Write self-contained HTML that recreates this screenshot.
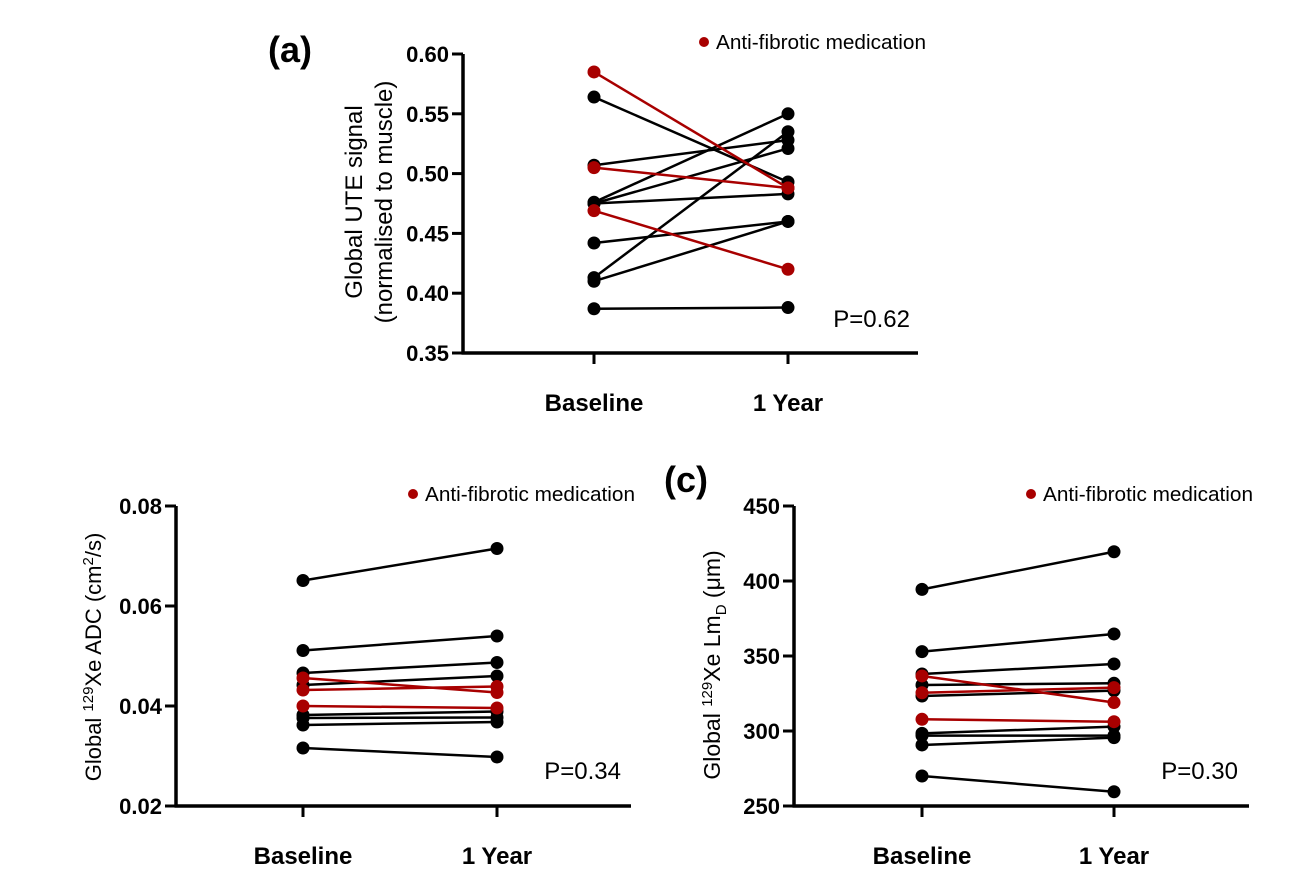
<!DOCTYPE html>
<html><head><meta charset="utf-8"><style>
html,body{margin:0;padding:0;background:#fff;}
svg{display:block;font-family:"Liberation Sans",Arial,sans-serif;}
</style></head><body>
<svg id="fig" width="1290" height="893" viewBox="0 0 1290 893"></svg>
<script>
// Panel (a) data
const aCategories = ["Baseline","1 Year"];
const aTicks = [0.35,0.40,0.45,0.50,0.55,0.60];
const aBase = [0.585,0.505,0.469,0.564,0.507,0.476,0.475,0.475,0.442,0.413,0.410,0.387];
const aYear = [0.488,0.488,0.420,0.493,0.528,0.550,0.521,0.483,0.460,0.535,0.460,0.388];
const aMed  = [1,1,1,0,0,0,0,0,0,0,0,0];
// Panel (b) data
const bTicks = [0.02,0.04,0.06,0.08];
const bBase = [0.0651,0.0511,0.0466,0.0442,0.0456,0.0432,0.0400,0.0382,0.0376,0.0362,0.0316];
const bYear = [0.0715,0.0540,0.0487,0.0460,0.0427,0.0439,0.0396,0.0389,0.0377,0.0368,0.0298];
const bMed  = [0,0,0,0,1,1,1,0,0,0,0];
// Panel (c) data
const cTicks = [250,300,350,400,450];
const cBase = [394.4,352.9,338.0,336.7,325.5,330.7,323.3,307.8,298.4,296.9,290.7,270.0];
const cYear = [419.5,364.7,344.7,319.0,328.9,331.8,326.9,306.2,302.9,296.9,295.6,259.5];
const cMed  = [0,0,0,1,1,0,0,1,0,0,0,0];

const NS="http://www.w3.org/2000/svg";
const svg=document.getElementById('fig');
function mk(tag,attrs,parent,text){const e=document.createElementNS(NS,tag);for(const k in attrs)e.setAttribute(k,attrs[k]);if(text!==undefined)e.textContent=text;(parent||svg).appendChild(e);return e;}

function panel(id,o){
  const g=mk('g',{});
  
  
  const y=v=>o.y1-(v-o.min)/(o.max-o.min)*(o.y1-o.y0);
  const xs=[o.x0+o.dx[0],o.x0+o.dx[1]];
  const ya=mk('line',{x1:o.x0,y1:o.y0,x2:o.x0,y2:o.y1+1.5,stroke:'#000','stroke-width':3.5},g);
  
  
  const xa=mk('line',{x1:o.x0-1.5,y1:o.y1,x2:o.x0+455,y2:o.y1,stroke:'#000','stroke-width':3.5},g);
  
  
  o.ticks.forEach(t=>{
    mk('line',{x1:o.x0-11,y1:y(t),x2:o.x0,y2:y(t),stroke:'#000','stroke-width':3},g);
    const tl=mk('text',{x:o.x0-14,y:y(t)+8,'text-anchor':'end','font-size':22,'font-weight':'bold'},g,t.toFixed(o.dec));
    
    
  });
  aCategories.forEach((c,i)=>{
    mk('line',{x1:xs[i],y1:o.y1,x2:xs[i],y2:o.y1+11,stroke:'#000','stroke-width':3},g);
    const xl=mk('text',{x:xs[i],y:o.y1+58,'text-anchor':'middle','font-size':24,'font-weight':'bold'},g,c);
    
    
  });
  [0,1].forEach(pass=>{
    o.base.forEach((b,i)=>{
      if(o.med[i]!==pass)return;
      const col=o.med[i]?'#a80000':'#000';
      const ln=mk('line',{x1:xs[0],y1:y(b),x2:xs[1],y2:y(o.year[i]),stroke:col,'stroke-width':2.5},g);
      
      
      [b,o.year[i]].forEach((v,k)=>{
        const p=mk('circle',{cx:xs[k],cy:y(v),r:6.5,fill:col},g);
        
        
      });
    });
  });
  const lg=mk('g',{},g);
  
  
  mk('circle',{cx:o.leg[0],cy:o.leg[1],r:5,fill:'#a80000'},lg);
  mk('text',{x:o.leg[0]+12,y:o.leg[1]+7,'font-size':20,textLength:210,lengthAdjust:'spacingAndGlyphs'},lg,'Anti-fibrotic medication');
  const pt=mk('text',{x:o.p[0],y:o.p[1],'text-anchor':'end','font-size':24},g,o.ptext);
  
  
  return g;
}

panel('panel-a',{x0:463,y0:54,y1:353,min:0.35,max:0.60,dx:[131,325],ticks:aTicks,dec:2,base:aBase,year:aYear,med:aMed,leg:[704,42],p:[910,327],ptext:'P=0.62'});
panel('panel-b',{x0:176,y0:506,y1:806,min:0.02,max:0.08,dx:[127,321],ticks:bTicks,dec:2,base:bBase,year:bYear,med:bMed,leg:[413,494],p:[621,779],ptext:'P=0.34'});
panel('panel-c',{x0:794,y0:506,y1:806,min:250,max:450,dx:[128,320],ticks:cTicks,dec:0,base:cBase,year:cYear,med:cMed,leg:[1031,494],p:[1238,779],ptext:'P=0.30'});
</script>
<script>
const s=document.getElementById('fig');
function T(attrs,html,name){const e=document.createElementNS("http://www.w3.org/2000/svg",'text');for(const k in attrs)e.setAttribute(k,attrs[k]);e.innerHTML=html;


s.appendChild(e);}
T({x:268,y:62,'font-size':36,'font-weight':'bold'},'(a)','panel-label-a');
T({x:664,y:492,'font-size':36,'font-weight':'bold'},'(c)','panel-label-c');
T({transform:'translate(362,202) rotate(-90)','text-anchor':'middle','font-size':24},'Global UTE signal','y-axis-title-a-line1');
T({transform:'translate(392,202) rotate(-90)','text-anchor':'middle','font-size':24},'(normalised to muscle)','y-axis-title-a-line2');
T({transform:'translate(101,657) rotate(-90)','text-anchor':'middle','font-size':22},'Global <tspan dy="-8" font-size="15">129</tspan><tspan dy="8">Xe ADC (cm</tspan><tspan dy="-8" font-size="15">2</tspan><tspan dy="8">/s)</tspan>','y-axis-title-b');
T({transform:'translate(720,665) rotate(-90)','text-anchor':'middle','font-size':23},'Global <tspan dy="-8" font-size="15">129</tspan><tspan dy="8">Xe Lm</tspan><tspan dy="6" font-size="15">D</tspan><tspan dy="-6"> (μm)</tspan>','y-axis-title-c');
</script>
</body></html>
